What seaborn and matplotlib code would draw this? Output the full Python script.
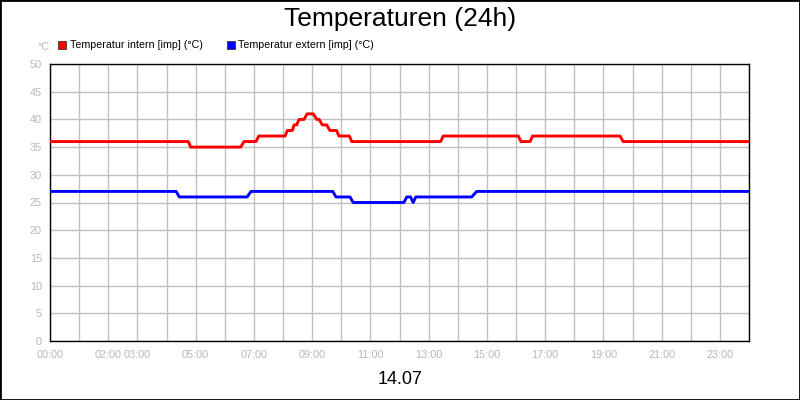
import matplotlib
matplotlib.use("Agg")
import matplotlib.pyplot as plt
from matplotlib.patches import Rectangle
import seaborn as sns
import pandas as pd

# ---- data (hours, °C) ----
intern_t = [0.0, 4.75, 4.83, 6.55, 6.66, 7.07, 7.17, 8.07, 8.15, 8.32, 8.38, 8.47, 8.55,
            8.72, 8.83, 9.04, 9.16, 9.24, 9.35, 9.50, 9.61, 9.84, 9.92, 10.28, 10.36,
            13.41, 13.50, 16.08, 16.17, 16.48, 16.57, 19.57, 19.68, 24.0]
intern_v = [36, 36, 35, 35, 36, 36, 37, 37, 38, 38, 39, 39, 40,
            40, 41, 41, 40, 40, 39, 39, 38, 38, 37, 37, 36,
            36, 37, 37, 36, 36, 37, 37, 36, 36]
extern_t = [0.0, 4.33, 4.44, 6.77, 6.90, 9.71, 9.82, 10.30, 10.41, 12.15, 12.25,
            12.38, 12.47, 12.56, 14.48, 14.65, 24.0]
extern_v = [27, 27, 26, 26, 27, 27, 26, 26, 25, 25, 26,
            26, 25, 26, 26, 27, 27]
series_names = ["Temperatur intern [imp] (°C)", "Temperatur extern [imp] (°C)"]
series_colors = ["#ff0000", "#0000ff"]
x_ticks = list(range(25))
x_labeled_hours = [0, 2, 3, 5, 7, 9, 11, 13, 15, 17, 19, 21, 23]
y_ticks = list(range(0, 51, 5))
title = "Temperaturen (24h)"
xlabel = "14.07"
ylabel = "°C"

df = pd.concat([
    pd.DataFrame({"t": intern_t, "v": intern_v, "s": series_names[0]}),
    pd.DataFrame({"t": extern_t, "v": extern_v, "s": series_names[1]}),
], ignore_index=True)

sns.set_style("white")
plt.rcParams["font.family"] = ["Liberation Sans", "DejaVu Sans"]
narrow = ["Liberation Sans Narrow", "Liberation Sans", "DejaVu Sans"]
gray = "#b8b8b8"

fig = plt.figure(figsize=(8, 4), dpi=100)
fig.patch.set_facecolor("white")
ax = fig.add_axes([50 / 800, 59 / 400, 699 / 800, 277 / 400])

sns.lineplot(data=df, x="t", y="v", hue="s", palette=dict(zip(series_names, series_colors)),
             estimator=None, sort=False, linewidth=2.1, legend=False, ax=ax, zorder=3)

ax.set_xlim(0, 24)
ax.set_ylim(0, 50)
ax.set_xticks(x_ticks)
ax.set_xticklabels([f"{h:02d}:00" if h in x_labeled_hours else "" for h in x_ticks])
ax.set_yticks(y_ticks)
ax.set_yticklabels([str(v) for v in y_ticks])
ax.grid(True, color="#c0c0c0", linewidth=1.0)
ax.set_axisbelow(True)
for sp in ax.spines.values():
    sp.set_color("black")
    sp.set_linewidth(1.0)
ax.tick_params(axis="x", direction="out", length=3, width=0.8, color=gray, pad=3.5,
               labelsize=7.8, labelcolor=gray)
ax.tick_params(axis="y", direction="out", length=4.3, width=0.8, color=gray, pad=1.5,
               labelsize=7.8, labelcolor=gray)
for lab in ax.get_xticklabels() + ax.get_yticklabels():
    lab.set_family(narrow)
ax.set_xlabel("")
ax.set_ylabel("")

fig.text(0.5, 1 - 19 / 400, title, ha="center", va="center", fontsize=19, color="black")
fig.text(0.5, 1 - 379 / 400, xlabel, ha="center", va="center", fontsize=13, color="black")
fig.text(43 / 800, 1 - 47 / 400, ylabel, ha="center", va="center", fontsize=7.8,
         color=gray, family=narrow)

# legend
leg_x = [58, 226.5]
for name, col, lx in zip(series_names, series_colors, leg_x):
    fig.patches.append(Rectangle((lx / 800, 1 - 49 / 400), 8 / 800, 8 / 400,
                                 transform=fig.transFigure, facecolor=col,
                                 edgecolor="#333333", linewidth=0.6))
    fig.text((lx + 12) / 800, 1 - 45 / 400, name, ha="left", va="center",
             fontsize=7.65, color="black")

fig.patches.append(Rectangle((0, 0), 1, 1, transform=fig.transFigure, fill=False,
                             edgecolor="black", linewidth=2))

fig.savefig("out.png", dpi=100, facecolor="white")
